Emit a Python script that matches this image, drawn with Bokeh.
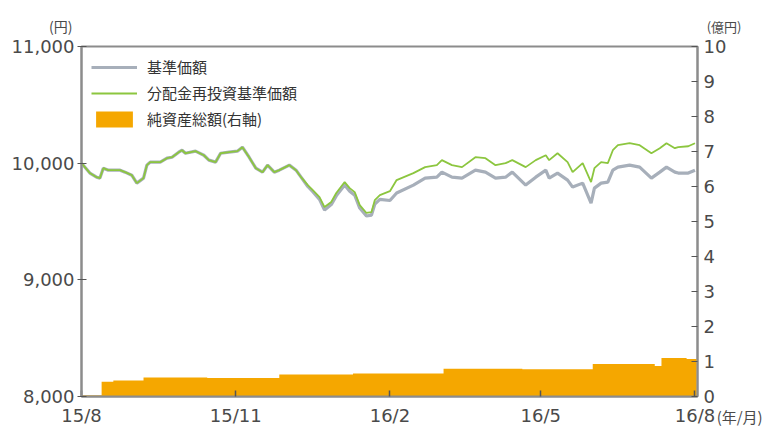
import pandas as pd
from bokeh.plotting import figure
from bokeh.models import (Range1d, LinearAxis, FixedTicker, NumeralTickFormatter,
                          Legend, LegendItem, Label)
from bokeh.embed import file_html
from bokeh.resources import INLINE

# ---------------- data ----------------
nav_dates = [
    "2015-08-01", "2015-08-06", "2015-08-10", "2015-08-12", "2015-08-14", "2015-08-17",
    "2015-08-24", "2015-08-27", "2015-08-31", "2015-09-03", "2015-09-07", "2015-09-09",
    "2015-09-11", "2015-09-17", "2015-09-21", "2015-09-24", "2015-09-28", "2015-09-30",
    "2015-10-02", "2015-10-08", "2015-10-13", "2015-10-16", "2015-10-20", "2015-10-23",
    "2015-10-28", "2015-11-02", "2015-11-05", "2015-11-09", "2015-11-13", "2015-11-17",
    "2015-11-20", "2015-11-24", "2015-11-27", "2015-12-03", "2015-12-07", "2015-12-10",
    "2015-12-14", "2015-12-17", "2015-12-21", "2015-12-24", "2015-12-28", "2015-12-31",
    "2016-01-05", "2016-01-08", "2016-01-11", "2016-01-14", "2016-01-18", "2016-01-21",
    "2016-01-23", "2016-01-26", "2016-02-01", "2016-02-05", "2016-02-15", "2016-02-22",
    "2016-02-29", "2016-03-03", "2016-03-09", "2016-03-15", "2016-03-23", "2016-03-29",
    "2016-04-04", "2016-04-10", "2016-04-14", "2016-04-22", "2016-04-28", "2016-05-04",
    "2016-05-06", "2016-05-11", "2016-05-17", "2016-05-20", "2016-05-26", "2016-05-31",
    "2016-06-02", "2016-06-06", "2016-06-10", "2016-06-13", "2016-06-16", "2016-06-23",
    "2016-06-29", "2016-07-06", "2016-07-11", "2016-07-15", "2016-07-20", "2016-07-22",
    "2016-07-28", "2016-08-01",
]
nav_reinvest = [
    10000, 9915, 9880, 9872, 9957, 9940,
    9940, 9923, 9897, 9829, 9872, 9983,
    10009, 10009, 10043, 10051, 10094, 10111,
    10085, 10103, 10068, 10026, 10009, 10085,
    10094, 10103, 10137, 10051, 9957, 9923,
    9983, 9923, 9940, 9983, 9940, 9880,
    9812, 9769, 9709, 9624, 9667, 9744,
    9838, 9786, 9752, 9641, 9573, 9581,
    9684, 9726, 9760, 9855, 9915, 9966,
    9983, 10026, 9983, 9966, 10051, 10043,
    9983, 10000, 10026, 9966, 10026, 10068,
    10026, 10085, 10009, 9923, 10000, 9838,
    9957, 10009, 10000, 10111, 10154, 10171,
    10154, 10085, 10128, 10171, 10128, 10137,
    10145, 10171,
]
nav = [
    10000, 9915, 9880, 9872, 9957, 9940,
    9940, 9923, 9897, 9829, 9872, 9983,
    10009, 10009, 10043, 10051, 10094, 10111,
    10085, 10103, 10068, 10026, 10009, 10085,
    10094, 10103, 10137, 10051, 9957, 9923,
    9983, 9923, 9940, 9983, 9940, 9880,
    9800, 9755, 9690, 9598, 9645, 9720,
    9812, 9760, 9726, 9615, 9547, 9555,
    9650, 9690, 9680, 9744, 9812, 9872,
    9880, 9923, 9880, 9872, 9940, 9923,
    9872, 9880, 9923, 9812, 9880, 9940,
    9872, 9915, 9855, 9795, 9829, 9658,
    9786, 9829, 9838, 9940, 9966, 9983,
    9966, 9872, 9923, 9966, 9923, 9915,
    9915, 9940,
]

asset_dates = [
    "2015-08-01", "2015-08-13", "2015-08-20", "2015-09-07", "2015-10-15", "2015-11-27",
    "2016-01-10", "2016-03-04", "2016-04-20", "2016-06-01", "2016-07-08", "2016-07-12",
    "2016-07-27", "2016-08-02",
]
assets = [0.03, 0.42, 0.46, 0.54, 0.53, 0.63, 0.66, 0.79, 0.78, 0.93, 0.87, 1.10, 1.07, 1.07]

tick_dates = ["2015-08-01", "2015-11-01", "2016-02-01", "2016-05-01", "2016-08-01"]
tick_labels = ["15/8", "15/11", "16/2", "16/5", "16/8"]
left_ticks = [8000, 9000, 10000, 11000]
right_ticks = [0, 1, 2, 3, 4, 5, 6, 7, 8, 9, 10]

legend_labels = ["基準価額", "分配金再投資基準価額", "純資産総額(右軸)"]
unit_left = "(円)"
unit_right = "(億円)"
unit_x = "(年/月)"


def ms(s):
    return int(pd.Timestamp(s).value // 10**6)


nav_x = [ms(d) for d in nav_dates]
asset_x = [ms(d) for d in asset_dates]
tick_x = [ms(d) for d in tick_dates]

# ---------------- styling ----------------
GRAY = "#a7afba"
GREEN = "#8cc63f"
ORANGE = "#f5a700"
AXIS = "#8c8c8c"
TEXT = "#4a4a4a"
NUM_FONT = "DejaVu Sans"
JP_FONT = "Noto Sans CJK JP"

p = figure(width=780, height=428, output_backend="svg", toolbar_location=None,
           x_axis_type="datetime",
           x_range=Range1d(ms("2015-08-01"), ms("2016-08-02") + 12 * 3600 * 1000),
           y_range=Range1d(8000, 11000),
           min_border_left=81, min_border_right=83, min_border_top=46, min_border_bottom=31)
p.extra_y_ranges = {"assets": Range1d(0, 10)}
p.grid.visible = False
p.outline_line_color = AXIS
p.outline_line_width = 2
p.background_fill_color = "white"
p.border_fill_color = "white"

area = p.varea_step(x=asset_x, y1=[0] * len(assets), y2=assets, step_mode="after",
                    y_range_name="assets", fill_color=ORANGE)
gray_r = p.line(nav_x, nav, line_color=GRAY, line_width=3.2)
green_r = p.line(nav_x, nav_reinvest, line_color=GREEN, line_width=1.8)

# x axis
xa = p.xaxis[0]
xa.ticker = FixedTicker(ticks=tick_x)
xa.major_label_overrides = {t: l for t, l in zip(tick_x, tick_labels)}
xa.minor_tick_line_color = None
xa.major_tick_in = 6
xa.major_tick_out = 0
xa.major_tick_line_color = "#555555"
xa.major_tick_line_width = 1.5
xa.axis_line_color = AXIS
xa.axis_line_width = 2
xa.major_label_standoff = 8
xa.major_label_text_font = NUM_FONT
xa.major_label_text_font_size = "18px"
xa.major_label_text_color = TEXT

# left axis
ya = p.yaxis[0]
ya.ticker = FixedTicker(ticks=left_ticks)
ya.formatter = NumeralTickFormatter(format="0,0")
ya.minor_tick_line_color = None
ya.major_tick_in = 5
ya.major_tick_out = 4
ya.major_tick_line_color = "#555555"
ya.axis_line_color = AXIS
ya.axis_line_width = 2
ya.major_label_standoff = 3
ya.major_label_text_font = NUM_FONT
ya.major_label_text_font_size = "18px"
ya.major_label_text_color = TEXT

# right axis
ra = LinearAxis(y_range_name="assets", ticker=FixedTicker(ticks=right_ticks))
ra.minor_tick_line_color = None
ra.major_tick_in = 6
ra.major_tick_out = 0
ra.major_tick_line_color = "#555555"
ra.axis_line_color = AXIS
ra.axis_line_width = 2
ra.major_label_standoff = 6
ra.major_label_text_font = NUM_FONT
ra.major_label_text_font_size = "18px"
ra.major_label_text_color = TEXT
p.add_layout(ra, "right")

# unit captions, put in side panels so they are not clipped to the frame
x0 = ms("2015-08-01")
x1 = ms("2016-08-02")
p.add_layout(Label(x=x0, y=11000, text=unit_left, x_offset=-9, y_offset=11,
                   text_align="right", text_baseline="bottom",
                   text_font=JP_FONT, text_font_size="14px", text_color=TEXT), "above")
p.add_layout(Label(x=x1, y=11000, text=unit_right, x_offset=10, y_offset=11,
                   text_align="left", text_baseline="bottom",
                   text_font=JP_FONT, text_font_size="13px", text_color=TEXT), "above")
p.add_layout(Label(x=x1, y=8000, text=unit_x, x_offset=20, y_offset=-9,
                   text_align="left", text_baseline="top",
                   text_font=JP_FONT, text_font_size="15px", text_color=TEXT), "right")

legend = Legend(items=[LegendItem(label=legend_labels[0], renderers=[gray_r]),
                       LegendItem(label=legend_labels[1], renderers=[green_r]),
                       LegendItem(label=legend_labels[2], renderers=[area])],
                location="top_left")
legend.margin = 10
legend.padding = 2
legend.spacing = 5
legend.glyph_width = 46
legend.glyph_height = 20
legend.label_height = 20
legend.label_standoff = 10
legend.label_text_font = JP_FONT
legend.label_text_font_size = "15px"
legend.label_text_color = "#333333"
legend.background_fill_alpha = 0
legend.border_line_color = None
p.add_layout(legend)

open("out.html", "w").write(file_html(p, INLINE))
